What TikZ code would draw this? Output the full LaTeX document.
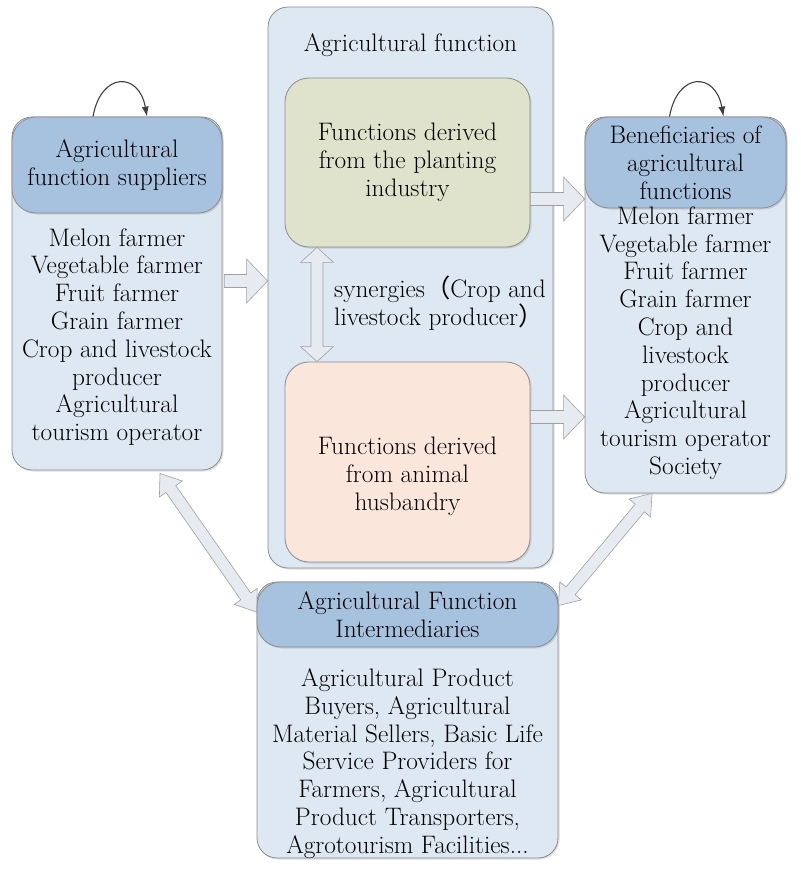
\documentclass[tikz,border=0pt]{standalone}
\usepackage{fontspec}
\newfontfamily\cjk{Noto Sans CJK SC}
\usetikzlibrary{arrows.meta,calc,shadows}

\definecolor{headblue}{RGB}{167,194,222}
\definecolor{bodyblue}{RGB}{222,232,242}
\definecolor{plantgreen}{RGB}{223,227,204}
\definecolor{animalpeach}{RGB}{250,230,218}
\definecolor{boxgray}{RGB}{140,140,140}
\definecolor{arrowfill}{RGB}{230,235,242}
\definecolor{arrowgray}{RGB}{160,160,160}
\definecolor{loopgray}{RGB}{64,64,64}

\tikzset{
  boxbody/.style={draw=boxgray, fill=bodyblue, line width=0.8pt, rounded corners=20pt,
    inner sep=0pt, drop shadow={shadow xshift=1.5pt, shadow yshift=-1.5pt, opacity=0.25}},
  boxhead/.style={boxbody, fill=headblue, rounded corners=24pt, words},
  words/.style={align=center, inner sep=0pt, font=\fontsize{25.3}{27.8}\selectfont},
  blockarrow/.style={draw=arrowgray, fill=arrowfill, line width=0.6pt, line join=miter},
  selfloop/.style={draw=loopgray, line width=1.1pt, -{Latex[length=10pt,width=7pt]}}
}

% block arrow with one head: from, to
\newcommand{\onearrow}[2]{%
  \path[blockarrow] let \p1=(#1), \p2=(#2),
    \n1={atan2(\y2-\y1,\x2-\x1)}, \n2={veclen(\x2-\x1,\y2-\y1)} in
    [shift={(\p1)}, rotate=\n1]
    (0pt,6.5pt) -- ({\n2-21pt},6.5pt) -- ({\n2-21pt},22pt) -- ({\n2+0pt},0pt)
    -- ({\n2-21pt},-22pt) -- ({\n2-21pt},-6.5pt) -- (0pt,-6.5pt) -- cycle;}
% block arrow with two heads: from, to, head half width, head length
\newcommand{\twoarrow}[4]{%
  \path[blockarrow] let \p1=(#1), \p2=(#2),
    \n1={atan2(\y2-\y1,\x2-\x1)}, \n2={veclen(\x2-\x1,\y2-\y1)} in
    [shift={(\p1)}, rotate=\n1]
    (0pt,0pt) -- (#4,#3) -- (#4,6pt) -- ({\n2-#4},6pt) -- ({\n2-#4},#3) -- ({\n2+0pt},0pt)
    -- ({\n2-#4},-#3) -- ({\n2-#4},-6pt) -- (#4,-6pt) -- (#4,-#3) -- cycle;}

\begin{document}
\begin{tikzpicture}[x=1pt, y=-1pt]
  \useasboundingbox (0,0) rectangle (800,869);

  % Middle: the agricultural function and its two sources.
  \node[boxbody, minimum width=285pt, minimum height=561pt] (funcbox) at (410.5,287.5) {};
  \node[words] (functitle) at (410.5,45) {Agricultural function};
  \node[boxbody, fill=plantgreen, rounded corners=24pt, minimum width=245pt, minimum height=169pt, words]
    (plant) at (407.5,162.5) {Functions derived\\from the planting\\industry};
  \node[boxbody, fill=animalpeach, rounded corners=24pt, minimum width=245pt, minimum height=200pt]
    (animal) at (407.5,462) {};
  \node[words] (animaltext) at (407.5,476) {Functions derived\\from animal\\husbandry};
  \node[words, align=left, anchor=west] (synlabel) at (334,303)
    {synergies{\cjk （}Crop and\\livestock producer{\cjk ）}};

  % Left: suppliers.
  \node[boxbody, minimum width=210pt, minimum height=353pt] (supbody) at (117,293.5) {};
  \node[boxhead, minimum width=210pt, minimum height=96pt] (suphead) at (117,165)
    {Agricultural\\function suppliers};
  \node[words] (suplist) at (117,337) {Melon farmer\\Vegetable farmer\\Fruit farmer\\Grain farmer\\Crop and livestock\\producer\\Agricultural\\tourism operator};

  % Right: beneficiaries.
  \node[boxbody, minimum width=201pt, minimum height=376pt] (benbody) at (685.5,305) {};
  \node[boxhead, minimum width=201pt, minimum height=91pt] (benhead) at (685.5,162.5)
    {Beneficiaries of\\agricultural\\functions};
  \node[words] (benlist) at (685.5,343) {Melon farmer\\Vegetable farmer\\Fruit farmer\\Grain farmer\\Crop and\\livestock\\producer\\Agricultural\\tourism operator\\Society};

  % Bottom: intermediaries.
  \node[boxbody, minimum width=301pt, minimum height=276pt] (midbody) at (407.5,720) {};
  \node[boxhead, minimum width=301pt, minimum height=65pt] (midhead) at (407.5,614.5)
    {Agricultural Function\\Intermediaries};
  \node[words] (midlist) at (407.5,763.5) {Agricultural Product\\Buyers, Agricultural\\Material Sellers, Basic Life\\Service Providers for\\Farmers, Agricultural\\Product Transporters,\\Agrotourism Facilities...};

  % Block arrows.
  \onearrow{[xshift=2pt,yshift=12.5pt]supbody.east}{[yshift=6.5pt]funcbox.west}
  \onearrow{[yshift=-36.5pt]plant.east}{[yshift=106pt]benbody.west}
  \onearrow{[yshift=45pt]animal.east}{[yshift=-112pt]benbody.west}
  \twoarrow{[xshift=-90.5pt]plant.south}{[xshift=-90.5pt]animal.north}{16.5pt}{15pt}
  \twoarrow{[xshift=43pt,yshift=-3pt]supbody.south}{[yshift=2.5pt]midhead.west}{14pt}{19pt}
  \twoarrow{[xshift=-33.5pt]benbody.south}{[yshift=9pt]midhead.east}{14pt}{19pt}

  % Self loops.
  \draw[selfloop] ([xshift=-24pt]suphead.north) .. controls +(8,-45) and +(-8,-45) .. ([xshift=30pt]suphead.north);
  \draw[selfloop] ([xshift=-16pt]benhead.north) .. controls +(8,-45) and +(-8,-45) .. ([xshift=38pt]benhead.north);
\end{tikzpicture}
\end{document}
